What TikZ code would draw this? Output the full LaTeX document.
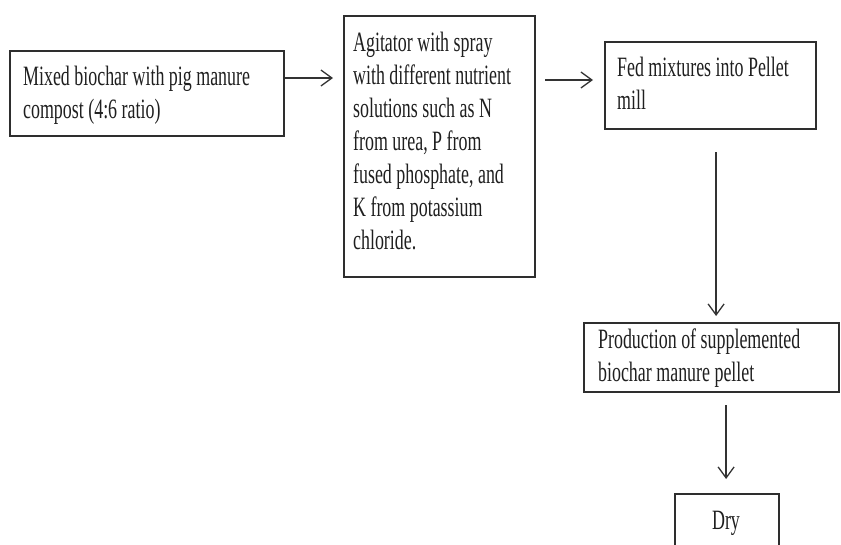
\documentclass[tikz,border=0pt]{standalone}
\usepackage{fontspec}
\usepackage{graphicx}
\setmainfont{Liberation Serif}
\usetikzlibrary{arrows.meta}
\begin{document}
\begin{tikzpicture}[x=1pt,y=-1pt,
  box/.style={draw=black!82, line width=2.2pt, inner sep=0pt, anchor=north west},
  txt/.style={anchor=north west, inner sep=0pt, align=left,
    font=\fontsize{28}{33}\selectfont, xscale=0.64, transform shape, text=black!88},
  arr/.style={draw=black!80, line width=1.3pt,
    -{Straight Barb[length=11pt,width=16pt,line width=1.3pt]}}]
\useasboundingbox (0,0) rectangle (841,544);

% process boxes
\node[box, minimum width=274pt, minimum height=85pt] (b1) at (9,50) {};
\node[box, minimum width=191pt, minimum height=261pt] (b2) at (343,15) {};
\node[box, minimum width=211pt, minimum height=87pt] (b3) at (604,41) {};
\node[box, minimum width=255pt, minimum height=69pt] (b4) at (583,322) {};
\node[box, minimum width=104pt, minimum height=72pt] (b5) at (674,493) {};

% box texts
\node[txt] (t1) at (23,66) {Mixed biochar with pig manure\\compost (4:6 ratio)};
\node[txt] (t2) at (353,32) {Agitator with spray\\with different nutrient\\solutions such as N\\from urea, P from\\fused phosphate, and\\K from potassium\\chloride.};
\node[txt] (t3) at (617,57) {Fed mixtures into Pellet\\mill};
\node[txt] (t4) at (598,329) {Production of supplemented\\biochar manure pellet};
\node[txt, anchor=center] (t5) at (726,523) {Dry};

% connectors
\draw[arr] ([yshift=-28pt]b1.north east) -- ([xshift=-10pt,yshift=-63pt]b2.north west);
\draw[arr] ([xshift=9pt,yshift=-65pt]b2.north east) -- ([xshift=-11pt,yshift=-39pt]b3.north west);
\draw[arr] ([xshift=5.5pt,yshift=-22pt]b3.south) -- ([xshift=4.5pt,yshift=6pt]b4.north);
\draw[arr] ([xshift=14.5pt,yshift=-12pt]b4.south) -- ([xshift=-1pt,yshift=14pt]b5.north);
\end{tikzpicture}
\end{document}
